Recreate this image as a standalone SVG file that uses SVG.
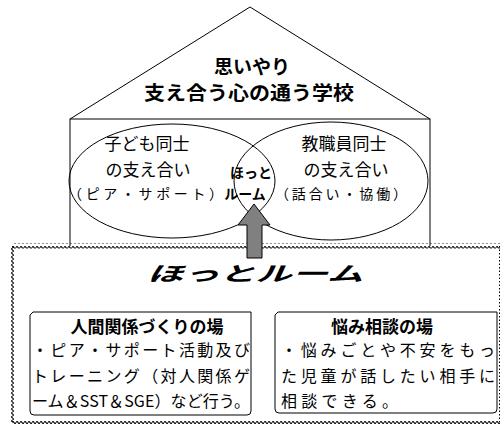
<svg xmlns="http://www.w3.org/2000/svg" width="502" height="428" viewBox="0 0 502 428">
<style>
.ln{fill:none;stroke:#000;stroke-width:1}
.t{font-family:"Noto Sans CJK JP","Noto Sans",sans-serif;fill:#000}
.b{font-weight:700}
.h{font-size:17px;text-anchor:middle}
.p{font-size:16px}
</style>
<defs>
<pattern id="wh" width="4" height="5" patternUnits="userSpaceOnUse">
<path d="M0 2.5 Q1 0.7 2 2.5 T4 2.5" fill="none" stroke="#000" stroke-width="1.1"/>
</pattern>
<pattern id="wv" width="5" height="4" patternUnits="userSpaceOnUse">
<path d="M2.5 0 Q0.7 1 2.5 2 T2.5 4" fill="none" stroke="#000" stroke-width="1.1"/>
</pattern>
</defs>
<rect width="502" height="428" fill="#fff"/>
<g id="house">
<path class="ln" d="M70 119 L250 7 L430 119"/>
<rect class="ln" x="70" y="119" width="360" height="128"/>
<text class="t b" x="252" y="74" font-size="19" text-anchor="middle">思いやり</text>
<text class="t b" x="249" y="100" font-size="19" text-anchor="middle" textLength="210" lengthAdjust="spacingAndGlyphs">支え合う心の通う学校</text>
</g>
<g id="children">
<ellipse class="ln" cx="172" cy="181" rx="103" ry="57"/>
<text class="t h" x="147" y="150">子ども同士</text>
<text class="t h" x="148" y="176">の支え合い</text>
<text class="t" x="68" y="199" font-size="14" textLength="155" lengthAdjust="spacing">（ピア・サポート）</text>
</g>
<g id="staff">
<ellipse class="ln" cx="331" cy="181" rx="97" ry="59"/>
<text class="t h" x="344" y="150">教職員同士</text>
<text class="t h" x="346" y="176">の支え合い</text>
<text class="t" x="275" y="199" font-size="14" textLength="132" lengthAdjust="spacing">（話合い・協働）</text>
</g>
<g id="hotto-center">
<text class="t b" x="251" y="178" font-size="14" text-anchor="middle">ほっと</text>
<text class="t b" x="245" y="199" font-size="14" text-anchor="middle">ルーム</text>
</g>
<g id="room">
<rect x="12" y="246" width="488" height="177" fill="#fff"/>
<rect x="12" y="243.5" width="488" height="5" fill="url(#wh)"/>
<rect x="12" y="419.5" width="488" height="5" fill="url(#wh)"/>
<rect x="9.5" y="246" width="5" height="176" fill="url(#wv)"/>
<line x1="499.5" y1="246" x2="499.5" y2="422" stroke="#000" stroke-width="1" stroke-dasharray="1.5,2"/>
<text class="t b" transform="translate(255,281) scale(1,0.72)" font-size="28" font-style="italic" text-anchor="middle" textLength="216" lengthAdjust="spacingAndGlyphs">ほっとルーム</text>
</g>
<g id="relations">
<path class="ln" d="M33 312 H251 V411 Q251 415 247 415 H34 Q30 415 30 411 V315 Z"/>
<text class="t b h" x="147" y="333">人間関係づくりの場</text>
<text class="t p" x="32" y="356" textLength="218" lengthAdjust="spacing">・ピア・サポート活動及び</text>
<text class="t p" x="32" y="382" textLength="218" lengthAdjust="spacing">トレーニング（対人関係ゲ</text>
<text class="t p" x="32" y="407" textLength="218" lengthAdjust="spacing">ーム＆SST＆SGE）など行う。</text>
</g>
<g id="consult">
<path class="ln" d="M278 312 H497 V409 Q497 413 493 413 H279 Q275 413 275 409 V315 Z"/>
<text class="t b h" x="382" y="333">悩み相談の場</text>
<text class="t p" x="281" y="356" textLength="214" lengthAdjust="spacing">・悩みごとや不安をもっ</text>
<text class="t p" x="281" y="382" textLength="214" lengthAdjust="spacing">た児童が話したい相手に</text>
<text class="t p" x="281" y="407" textLength="117" lengthAdjust="spacing">相談できる。</text>
</g>
<g id="connectors">
<path d="M247 258 V225 H238 L254 204 L270 225 H262 V258 Z" fill="#808080" stroke="#000" stroke-width="1"/>
</g>
</svg>
